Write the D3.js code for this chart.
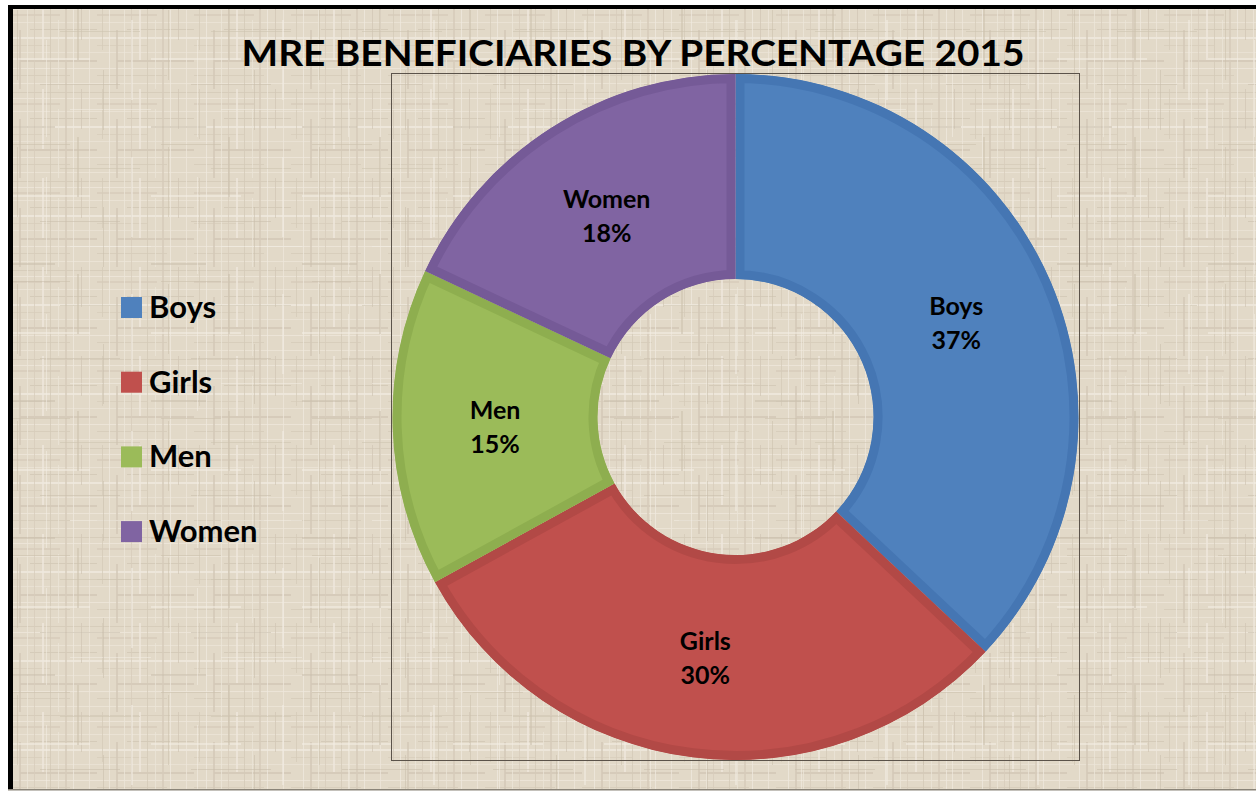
<!DOCTYPE html>
<html><head><meta charset="utf-8">
<script src="https://cdn.jsdelivr.net/npm/d3@7"></script>
<style>html,body{margin:0;padding:0;background:#fff;}svg{display:block;}</style>
</head><body>
<svg id="chart" width="1256" height="792"></svg>
<script>
const categories = ["Boys", "Girls", "Men", "Women"];
const values = [37, 30, 15, 18];
const fills = ["#4F81BD", "#C0504D", "#9BBB59", "#8064A2"];
const edges = ["#4576B3", "#B24946", "#8EAE4F", "#755A97"];
const title = "MRE BENEFICIARIES BY PERCENTAGE 2015";

const svg = d3.select("#chart");
const defs = svg.append("defs");
const font = "Lato, 'Open Sans', sans-serif";

// linen-like texture (deterministic patterns, two periods overlaid)
function linen(id, w, h, hl, vl, base, op) {
  const p = defs.append("pattern").attr("id", id).attr("patternUnits", "userSpaceOnUse")
    .attr("width", w).attr("height", h);
  if (base) p.append("rect").attr("width", w).attr("height", h).attr("fill", base);
  hl.forEach(([y, c, t, x0, x1]) => p.append("rect").attr("x", x0 || 0).attr("y", y)
    .attr("width", (x1 || w) - (x0 || 0)).attr("height", t).attr("fill", c).attr("opacity", op));
  vl.forEach(([x, c, t, y0, y1]) => p.append("rect").attr("x", x).attr("y", y0 || 0)
    .attr("width", t).attr("height", (y1 || h) - (y0 || 0)).attr("fill", c).attr("opacity", op));
}
linen("linenA", 97, 89,
  [[3,"#D3C9B7",1],[9,"#EEE8DC",1],[14,"#D6CCBA",2,0,60],[22,"#ECE5D8",1],[29,"#D0C6B4",1,30,97],[37,"#F0EAE0",2],[45,"#D7CDBB",1,0,50],[52,"#EBE4D6",1],[60,"#D1C7B5",2,20,97],[68,"#EEE8DC",1],[75,"#D4CAB8",1,0,70],[83,"#EDE6D9",1]],
  [[5,"#D4CAB8",1,0,50],[12,"#EFE9DE",1],[19,"#D2C8B6",2,30,89],[27,"#ECE6D9",1],[34,"#D6CCBA",1],[42,"#EEE8DD",2,0,60],[50,"#D3C9B7",1],[58,"#EBE5D8",1,20,89],[65,"#D5CBB9",2],[73,"#EFE9DF",1],[81,"#D1C7B5",1,0,40],[89,"#EDE7DA",1]],
  "#E2D9C8", 0.75);
linen("linenB", 151, 137,
  [[7,"#C9BEAB",1,10,70],[31,"#CCC2AF",1,60,140],[58,"#F3EEE5",2,0,90],[84,"#C8BDAA",1,40,120],[109,"#F2EDE3",1,70,151],[126,"#CABFAC",2,0,55]],
  [[17,"#C9BEAB",1,10,80],[46,"#F3EEE5",1,40,137],[77,"#CBC0AD",2,0,60],[103,"#C8BDAA",1,70,130],[131,"#F2EDE3",2,20,100]],
  null, 0.55);

// chart area background + borders
svg.append("rect").attr("x", 8).attr("y", 5).attr("width", 1256).attr("height", 785).attr("fill", "url(#linenA)");
svg.append("rect").attr("x", 8).attr("y", 5).attr("width", 1256).attr("height", 785).attr("fill", "url(#linenB)");
svg.append("rect").attr("x", 8).attr("y", 5).attr("width", 1256).attr("height", 4).attr("fill", "#000");
svg.append("rect").attr("x", 8).attr("y", 5).attr("width", 5).attr("height", 785).attr("fill", "#000");
svg.append("rect").attr("x", 8).attr("y", 789).attr("width", 1256).attr("height", 1.5).attr("fill", "#8a8478");

// plot area frame
svg.append("rect").attr("x", 391.5).attr("y", 73.5).attr("width", 688).attr("height", 687)
  .attr("fill", "none").attr("stroke", "#5b534a").attr("stroke-width", 1);

// title
svg.append("text").attr("x", 633).attr("y", 66).attr("text-anchor", "middle")
  .attr("font-family", font).attr("font-weight", 700).attr("font-size", 37)
  .attr("textLength", 783).attr("lengthAdjust", "spacingAndGlyphs")
  .attr("fill", "#000").text(title);

// donut
const cx = 735.5, cy = 417, R = 343, r = 138;
const total = d3.sum(values);
const pie = d3.pie().sort(null).value(d => d.v);
const arcs = pie(categories.map((c, i) => ({ c, v: values[i], i })));
const arc = d3.arc().innerRadius(r).outerRadius(R);

arcs.forEach((a, k) => {
  defs.append("clipPath").attr("id", "clip" + k).append("path")
    .attr("d", arc(a)).attr("transform", `translate(${cx},${cy})`);
  svg.append("g").attr("clip-path", `url(#clip${k})`)
    .append("path").attr("transform", `translate(${cx},${cy})`).attr("d", arc(a))
    .attr("fill", fills[a.data.i]).attr("stroke", edges[a.data.i]).attr("stroke-width", 18);
});

// slice labels
const labelArc = d3.arc().innerRadius((R + r) / 2).outerRadius((R + r) / 2);
arcs.forEach(a => {
  const [lx, ly] = labelArc.centroid(a);
  const t = svg.append("text").attr("text-anchor", "middle")
    .attr("font-family", font).attr("font-weight", 700).attr("font-size", 25).attr("fill", "#000");
  t.append("tspan").attr("x", cx + lx).attr("y", cy + ly - 6).text(a.data.c);
  t.append("tspan").attr("x", cx + lx).attr("y", cy + ly + 28).text(Math.round(a.data.v / total * 100) + "%");
});

// legend
const ly0 = 307, lstep = 74.7;
categories.forEach((c, i) => {
  const y = ly0 + i * lstep;
  svg.append("rect").attr("x", 121).attr("y", y - 10).attr("width", 21).attr("height", 21).attr("fill", fills[i]);
  svg.append("text").attr("x", 149).attr("y", y + 11).attr("font-family", font).attr("font-weight", 700)
    .attr("font-size", 31).attr("fill", "#000").text(c);
});
</script>
</body></html>
